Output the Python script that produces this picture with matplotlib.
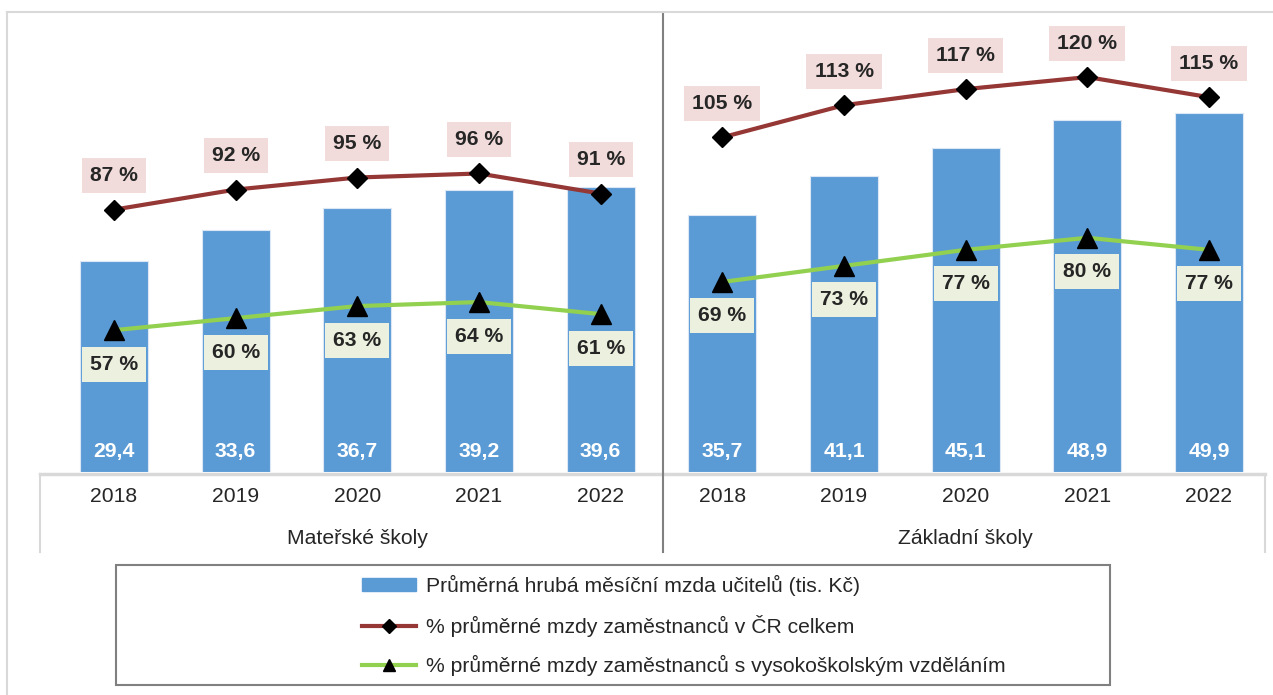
import matplotlib
matplotlib.use('Agg')
import matplotlib.pyplot as plt
from matplotlib.lines import Line2D
from matplotlib.patches import Patch, Rectangle
from matplotlib.transforms import blended_transform_factory

plt.rcParams['font.family'] = ['Liberation Sans', 'DejaVu Sans']

# data
skupiny = ['Mateřské školy', 'Základní školy']
roky = ['2018', '2019', '2020', '2021', '2022']
mzda_ms = [29.4, 33.6, 36.7, 39.2, 39.6]
mzda_zs = [35.7, 41.1, 45.1, 48.9, 49.9]
cr_ms = [87, 92, 95, 96, 91]
cr_zs = [105, 113, 117, 120, 115]
vs_ms = [57, 60, 63, 64, 61]
vs_zs = [69, 73, 77, 80, 77]

leg_mzda = 'Průměrná hrubá měsíční mzda učitelů (tis. Kč)'
leg_cr = '% průměrné mzdy zaměstnanců v ČR celkem'
leg_vs = '% průměrné mzdy zaměstnanců s vysokoškolským vzděláním'

modra = '#5b9bd5'
cervena = '#953735'
zelena = '#92d050'
W, H = 1273, 695
fs = 15.2

fig = plt.figure(figsize=(W / 100, H / 100), dpi=100)

def fx(px):
    return px / W

def fy(py):
    return 1 - py / H

ax = fig.add_axes([fx(40), fy(472), fx(1265) - fx(40), fy(14) - fy(472)])
ax2 = ax.twinx()

x_ms = list(range(5))
x_zs = list(range(5, 10))
mzdy = mzda_ms + mzda_zs

ax.bar(x_ms + x_zs, mzdy, width=0.56, color=modra, edgecolor='#dbe7f5', linewidth=0.8, zorder=2)
for x, v in zip(x_ms + x_zs, mzdy):
    ax.annotate(('%.1f' % v).replace('.', ','), (x, 0), xytext=(0, 21), textcoords='offset pixels',
                ha='center', va='center', color='white', fontweight='bold', fontsize=fs)

ax.set_xlim(-0.608, 9.46)
ax.set_ylim(0, 63.7)
ax2.set_ylim(21.7, 135.7)

for xs, cr, vs in [(x_ms, cr_ms, vs_ms), (x_zs, cr_zs, vs_zs)]:
    ax2.plot(xs, cr, color=cervena, lw=3, marker='D', markersize=10, markerfacecolor='black',
             markeredgecolor='black', zorder=3)
    ax2.plot(xs, vs, color=zelena, lw=3, marker='^', markersize=14, markerfacecolor='black',
             markeredgecolor='black', zorder=3)
    for x, v in zip(xs, cr):
        ax2.annotate('%d %%' % v, (x, v), xytext=(0, 34), textcoords='offset pixels', ha='center', va='center',
                     fontweight='bold', fontsize=fs, color='#262626',
                     bbox=dict(boxstyle='square,pad=0.38', fc='#f2dcdb', ec='none'))
    for x, v in zip(xs, vs):
        ax2.annotate('%d %%' % v, (x, v), xytext=(0, -34), textcoords='offset pixels', ha='center', va='center',
                     fontweight='bold', fontsize=fs, color='#262626',
                     bbox=dict(boxstyle='square,pad=0.38', fc='#ebf1de', ec='none'))

for a in (ax, ax2):
    a.set_xticks([])
    a.set_yticks([])
    for s in a.spines.values():
        s.set_visible(False)

# kategoriova osa
tr = blended_transform_factory(ax.transData, fig.transFigure)
for x, r in zip(x_ms + x_zs, roky + roky):
    fig.text(x, fy(497), r, transform=tr, ha='center', va='center', fontsize=fs, color='#262626')
fig.text(2, fy(539), skupiny[0], transform=tr, ha='center', va='center', fontsize=fs, color='#262626')
fig.text(7, fy(539), skupiny[1], transform=tr, ha='center', va='center', fontsize=fs, color='#262626')

sv = '#d9d9d9'
fig.add_artist(Line2D([fx(40), fx(1265)], [fy(474), fy(474)], color=sv, lw=2.5))
fig.add_artist(Line2D([fx(40), fx(40)], [fy(474), fy(552)], color=sv, lw=1.5))
fig.add_artist(Line2D([fx(1265), fx(1265)], [fy(474), fy(552)], color=sv, lw=1.5))
fig.add_artist(Line2D([fx(663), fx(663)], [fy(14), fy(552)], color='#808080', lw=1.5))

# ramecek grafu
fig.add_artist(Line2D([fx(7), fx(1280)], [fy(12), fy(12)], color=sv, lw=1.5))
fig.add_artist(Line2D([fx(7), fx(7)], [fy(12), fy(700)], color=sv, lw=1.5))

# legenda
fig.add_artist(Rectangle((fx(116), fy(685)), fx(1110) - fx(116), fy(565) - fy(685), transform=fig.transFigure,
                         fill=False, ec='#808080', lw=1.5))
handles = [Patch(color=modra, label=leg_mzda),
           Line2D([], [], color=cervena, lw=3, marker='D', markersize=7, markerfacecolor='black',
                  markeredgecolor='black', label=leg_cr),
           Line2D([], [], color=zelena, lw=3, marker='^', markersize=9, markerfacecolor='black',
                  markeredgecolor='black', label=leg_vs)]
fig.legend(handles=handles, loc='upper left', bbox_to_anchor=(fx(362), fy(575)), frameon=False,
           fontsize=fs, borderpad=0, borderaxespad=0, handlelength=2.55, handletextpad=0.5,
           handleheight=0.52, labelspacing=0.88, labelcolor='#262626')

fig.savefig('out.png', dpi=100)
